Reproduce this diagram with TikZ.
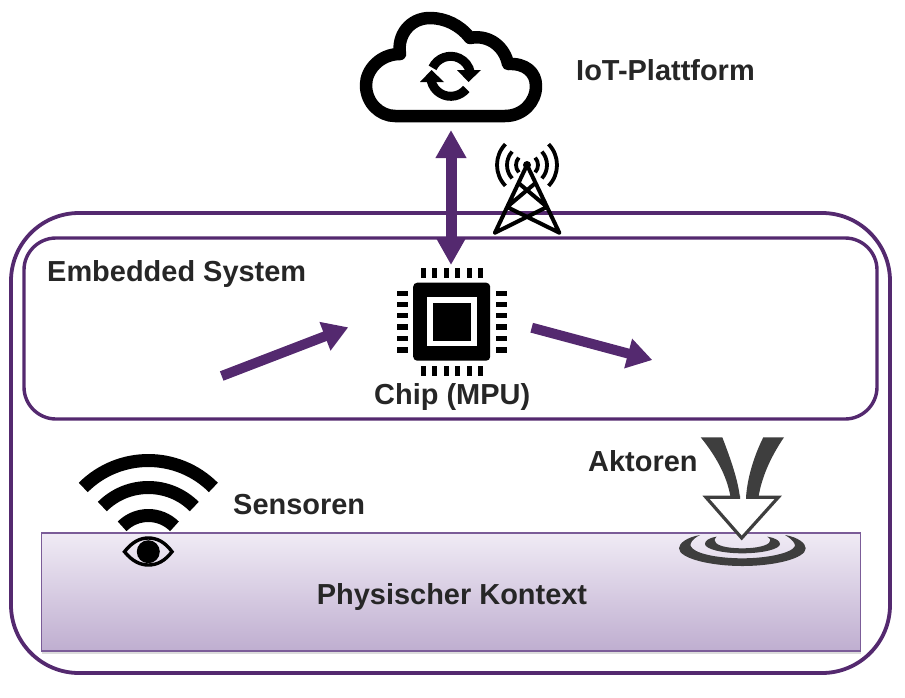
\documentclass[tikz,border=0pt]{standalone}
\usepackage{fontspec}
\setmainfont{Liberation Sans}
\usetikzlibrary{arrows.meta,shadows}

\definecolor{plum}{HTML}{54296F}
\definecolor{plumedge}{HTML}{7B5C98}
\definecolor{plumtop}{HTML}{F0EBF5}
\definecolor{plumbottom}{HTML}{BFAED0}
\definecolor{inkgray}{HTML}{262626}
\definecolor{actgray}{HTML}{3E3E3E}

\tikzset{
  caption/.style={font=\fontsize{28.95}{32}\selectfont\bfseries,text=inkgray,anchor=base west,inner sep=0pt},
  framebox/.style={draw=plum,rounded corners=#1,inner sep=0pt},
  bigarrow/.style={draw=plum,line width=10pt,-{Triangle[length=25pt,width=29pt]}},
}

\begin{document}
\begin{tikzpicture}[x=1pt,y=-1pt]
  \useasboundingbox (0,0) rectangle (905,697);

  % Physical context
  \node[draw=plumedge,line width=1.2pt,top color=plumtop,bottom color=plumbottom,
    drop shadow={shadow xshift=0pt,shadow yshift=-3pt,fill=gray!55},
    minimum width=819pt,minimum height=118pt,inner sep=0pt] (kontext) at (451,592) {};
  \node[caption,anchor=base] (kontextlabel) at (452,604) {Physischer Kontext};

  % Frames
  \node[framebox=68pt,line width=3.8pt,minimum width=879pt,minimum height=460pt] (outer) at (450.5,443) {};
  \node[framebox=32pt,line width=3.4pt,minimum width=853pt,minimum height=181pt] (embedded) at (450.5,328.5) {};

  % Cloud
  \draw[line width=12.5pt,line join=round] (395,116) -- (505,116)
    .. controls (523,116) and (536,102) .. (536,86)
    .. controls (536,72) and (525,63) .. (508,64)
    .. controls (505,48) and (490,34) .. (470,38)
    .. controls (460,25) and (445,18) .. (430,18)
    .. controls (410,18) and (397,35) .. (400,54)
    .. controls (380,54) and (366,70) .. (366,85)
    .. controls (366,103) and (380,116) .. (395,116) -- cycle;
  \coordinate (cloudport) at (451,130);
  % Sync sign
  \draw[line width=9pt] (450.7,76.3) ++(205:20) arc[start angle=205,end angle=350,radius=20];
  \draw[line width=9pt] (450.7,76.3) ++(167:20) arc[start angle=167,end angle=39,radius=20];
  \fill (457,70) -- (481,70) -- (468.5,82) -- cycle;
  \fill (420,82) -- (444,82) -- (431.5,70) -- cycle;

  % Tower
  \draw[line width=4pt,line cap=round,line join=round] (495,232.7) -- (527,165) -- (559.3,232.7)
    (518.5,183) -- (547,207) -- (495,232.7)
    (535.5,183) -- (507,207) -- (559.3,232.7);
  \fill (527,165) circle (4pt);
  \foreach \r/\a in {11/42,20/42,30/44} {
    \draw[line width=3.8pt] (527,165) ++(-\a:\r) arc[start angle=-\a,end angle=\a,radius=\r];
    \draw[line width=3.8pt] (527,165) ++(180-\a:\r) arc[start angle=180-\a,end angle=180+\a,radius=\r];
  }

  % Chip
  \node[fill=black,rounded corners=4pt,minimum width=77pt,minimum height=78pt,inner sep=0pt] (chip) at (451.7,321.7) {};
  \fill[white] (427.3,297.3) rectangle (476.7,346);
  \fill[black] (433.3,303.3) rectangle (470.7,340.7);
  \foreach \i in {423,434.7,446.3,457.7,469.3,480.7} {
    \fill (\i-2.5,267.7) rectangle (\i+2.5,277.7);
    \fill (\i-2.5,366) rectangle (\i+2.5,376);
  }
  \foreach \i in {293.3,304.3,315.7,327,338.7,350} {
    \fill (397.3,\i-2.7) rectangle (407.7,\i+2.7);
    \fill (496,\i-2.7) rectangle (506.7,\i+2.7);
  }
  \coordinate (chipport) at (451,265);
  \coordinate (inlet) at (221.7,376);
  \coordinate (inend) at (348.3,327.3);
  \coordinate (outlet) at (531.7,327.7);
  \coordinate (outend) at (652.3,360);

  % Arrows
  \draw[draw=plum,line width=11pt,{Triangle[length=28pt,width=29pt]}-{Triangle[length=28pt,width=29pt]}] (cloudport) -- (chipport);
  \draw[bigarrow] (inlet) -- (inend);
  \draw[bigarrow] (outlet) -- (outend);

  % Sensor
  \foreach \r in {92,65,37}
    \draw[line width=13pt] (148.3,552.5) ++(225:\r) arc[start angle=225,end angle=315,radius=\r];
  \draw[line width=3.4pt] (124.5,551.7) .. controls (132,542) and (140,538) .. (148.3,538)
    .. controls (157,538) and (165,542) .. (172,551.7)
    .. controls (165,561) and (157,565) .. (148.3,565)
    .. controls (140,565) and (132,561) .. (124.5,551.7) -- cycle;
  \fill (148.3,551.7) circle (11.5pt);

  % Actor
  \fill[actgray] (700,535) .. controls (686.7,537.3) and (679,543.3) .. (679,548.3)
    .. controls (679,558.3) and (710,566) .. (742.3,566)
    .. controls (775,566) and (805.7,558.3) .. (805.7,548.3)
    .. controls (805.7,543.3) and (798.3,537.3) .. (785,535)
    .. controls (793.3,540) and (795,543.3) .. (795,546)
    .. controls (791.7,553.3) and (766.7,558.3) .. (742.3,558.3)
    .. controls (716.7,558.3) and (693.3,553.3) .. (690.7,546)
    .. controls (690,543.3) and (691.7,539.3) .. (700,535) -- cycle;
  \fill[actgray] (716.7,536.7) .. controls (708,538) and (705,541) .. (705,544)
    .. controls (705,549) and (722,553.3) .. (742.3,553.3)
    .. controls (763,553.3) and (780,549) .. (780,544)
    .. controls (780,541) and (776,538) .. (767.3,536.7)
    .. controls (771,539) and (771,541) .. (769,543)
    .. controls (764,547) and (752,548.3) .. (742.3,548.3)
    .. controls (732,548.3) and (720,547) .. (716,543)
    .. controls (714,541) and (714,539) .. (716.7,536.7) -- cycle;
  \fill[white] (706,497.3) -- (741.7,540) -- (778.3,497.3) -- cycle;
  \draw[actgray,line width=3.2pt,line join=miter] (740,497.3) -- (706,497.3) -- (741.7,538) -- (778.3,497.3) -- (746,497.3);
  \fill[actgray] (700.7,437.3) -- (722.3,437.3) .. controls (731,460) and (738,480) .. (740,498)
    -- (730.7,498) .. controls (727,475) and (715,455) .. (700.7,437.3) -- cycle;
  \fill[actgray] (784,437.3) -- (763.3,437.3) .. controls (753,458) and (747,480) .. (746,498)
    -- (758.3,498) .. controls (762,475) and (772,455) .. (784,437.3) -- cycle;

  % Labels
  \node[caption] (iot) at (576,80) {IoT-Plattform};
  \node[caption] (system) at (47,281) {Embedded System};
  \node[caption] (chiplabel) at (374,404) {Chip (MPU)};
  \node[caption] (sensors) at (233,514) {Sensoren};
  \node[caption] (actors) at (588,471) {Aktoren};
\end{tikzpicture}
\end{document}
